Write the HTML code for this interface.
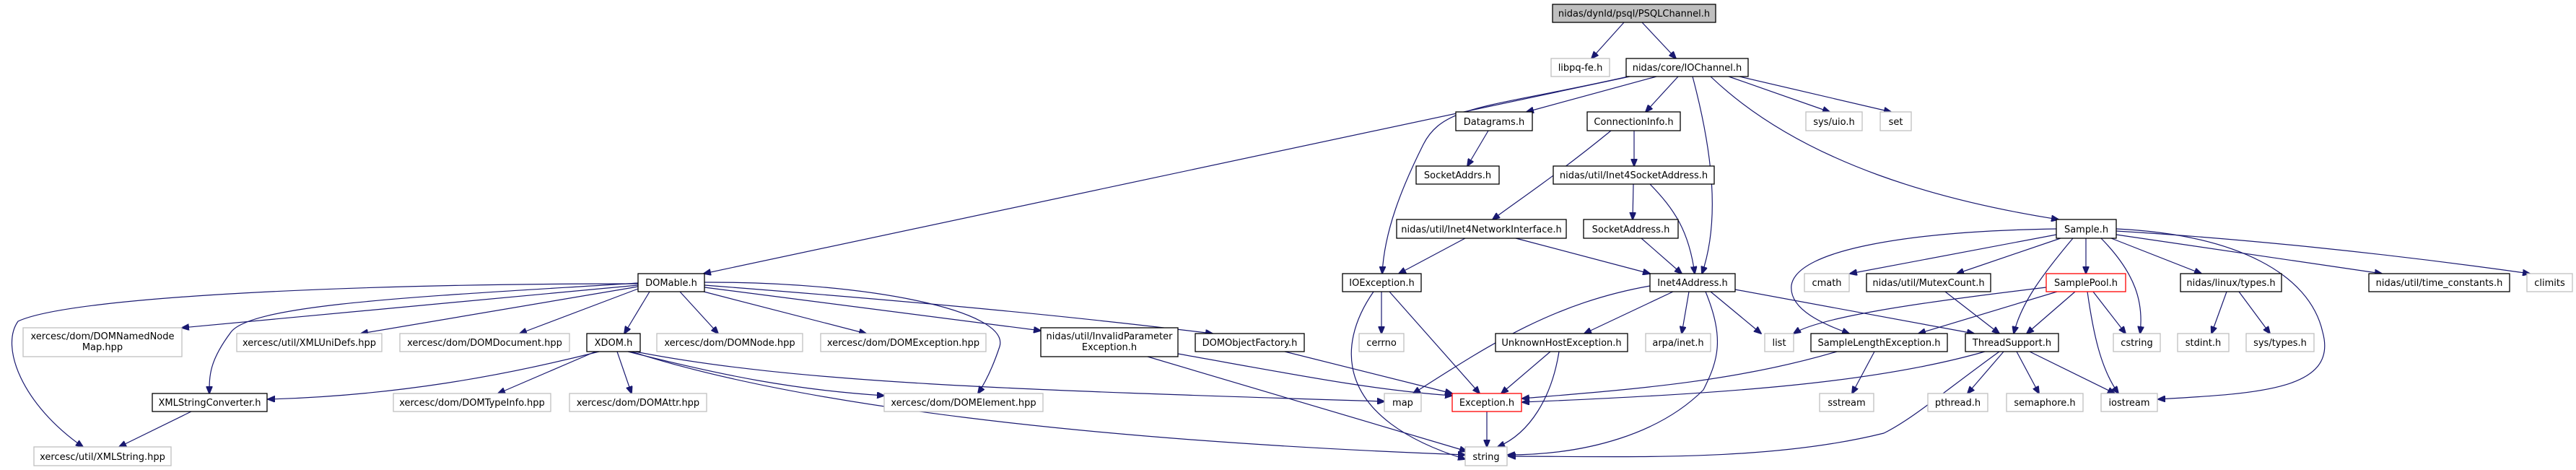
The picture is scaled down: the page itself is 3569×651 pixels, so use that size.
<!DOCTYPE html>
<html><head><meta charset="utf-8"><style>
html,body{margin:0;padding:0;background:#fff;}
svg{display:block;}
.n rect{fill:#fff;stroke:#000;stroke-width:1.3;}
.g rect{fill:#fff;stroke:#bfbfbf;stroke-width:1.3;}
.r rect{fill:#fff;stroke:#ff0000;stroke-width:1.3;}
text{font-family:"DejaVu Sans","Liberation Sans",sans-serif;font-size:13px;fill:#000;text-anchor:middle;}
path{fill:none;stroke:#191970;stroke-width:1.2;marker-end:url(#a);}
</style></head><body>
<svg width="3569" height="651" viewBox="0 0 3569 651" xmlns="http://www.w3.org/2000/svg">
<defs><marker id="a" markerWidth="11" markerHeight="9" refX="10" refY="4.5" orient="auto" markerUnits="userSpaceOnUse"><polygon points="0,0 11,4.5 0,9" fill="#191970" stroke="#191970"/></marker></defs>
<g>
<path d="M2250,31 L2205,81"/>
<path d="M2275,31 L2322,81"/>
<path d="M2258,106 L975,379"/>
<path d="M2256,106 C2060,150 2000,145 1972,200 C1942,260 1918,320 1915,379"/>
<path d="M2295,106 L2115,155"/>
<path d="M2325,106 L2280,155"/>
<path d="M2345,106 C2370,200 2385,300 2358,379"/>
<path d="M2370,106 C2500,230 2700,280 2852,304"/>
<path d="M2395,106 L2535,155"/>
<path d="M2410,106 L2620,155"/>
<path d="M2062,181 L2033,230"/>
<path d="M2264,181 L2264,230"/>
<path d="M2232,181 C2160,240 2100,280 2068,304"/>
<path d="M2263,255 L2262,304"/>
<path d="M2286,255 C2320,290 2340,320 2348,379"/>
<path d="M2030,330 L1938,379"/>
<path d="M2100,330 L2286,379"/>
<path d="M2274,330 L2330,379"/>
<path d="M1914,404 L1914,462"/>
<path d="M1925,404 L2050,545"/>
<path d="M1903,404 C1850,480 1850,580 2030,636"/>
<path d="M2286,396 C2150,420 2060,480 1958,545"/>
<path d="M2318,404 L2195,462"/>
<path d="M2340,404 L2330,462"/>
<path d="M2370,404 L2440,462"/>
<path d="M2363,404 C2390,470 2380,500 2360,540 C2300,600 2200,630 2089,630"/>
<path d="M2404,401 L2735,462"/>
<path d="M2148,487 L2080,545"/>
<path d="M2160,487 C2150,550 2120,600 2075,619"/>
<path d="M2060,570 L2060,619"/>
<path d="M2545,487 C2400,530 2250,540 2109,552"/>
<path d="M2750,487 C2600,530 2400,545 2109,557"/>
<path d="M2770,487 C2690,545 2650,580 2610,600 C2450,640 2250,632 2090,632"/>
<path d="M2597,487 L2566,545"/>
<path d="M2776,487 L2726,545"/>
<path d="M2794,487 L2825,545"/>
<path d="M2812,487 L2930,545"/>
<path d="M2849,317 C2650,320 2490,345 2482,395 C2478,430 2530,450 2562,462"/>
<path d="M2849,325 L2563,379"/>
<path d="M2855,330 L2711,379"/>
<path d="M2890,330 L2890,379"/>
<path d="M2872,330 C2830,380 2800,420 2790,462"/>
<path d="M2911,330 C2960,380 2970,420 2965,462"/>
<path d="M2925,330 L3050,379"/>
<path d="M2932,325 L3300,379"/>
<path d="M2932,320 C3100,330 3300,350 3505,379"/>
<path d="M2932,317 C3100,325 3200,380 3218,460 C3240,540 3130,545 2990,553"/>
<path d="M2835,398 C2650,420 2520,440 2485,462"/>
<path d="M2850,404 L2658,462"/>
<path d="M2875,404 L2808,462"/>
<path d="M2900,404 L2945,462"/>
<path d="M2892,404 C2900,460 2910,510 2935,545"/>
<path d="M2695,404 L2770,462"/>
<path d="M3085,404 L3064,462"/>
<path d="M3102,404 L3145,462"/>
<path d="M884,395 L252,454"/>
<path d="M884,397 L500,462"/>
<path d="M884,400 L720,462"/>
<path d="M900,404 L865,462"/>
<path d="M942,404 L995,462"/>
<path d="M975,404 L1200,462"/>
<path d="M976,398 L1442,458"/>
<path d="M976,395 C1300,420 1500,440 1680,462"/>
<path d="M976,391 C1200,390 1400,430 1385,480 C1375,510 1365,530 1355,545"/>
<path d="M884,392 C600,410 350,420 320,460 C290,500 290,520 290,545"/>
<path d="M884,393 C500,393 100,410 25,445 C0,480 30,560 115,619"/>
<path d="M830,487 C700,520 550,548 371,553"/>
<path d="M825,487 L690,545"/>
<path d="M855,487 L875,545"/>
<path d="M870,487 C1000,520 1100,540 1225,548"/>
<path d="M880,487 C1100,530 1400,540 1918,556"/>
<path d="M875,487 C1100,560 1500,610 2030,630"/>
<path d="M265,570 L165,619"/>
<path d="M1632,490 C1800,520 1900,540 2012,548"/>
<path d="M1590,494 L2032,625"/>
<path d="M1780,487 L2012,545"/>
</g>
<g class="n"><rect x="2151" y="6" width="226" height="25" style="fill:#bfbfbf"/><text x="2264" y="23">nidas/dynld/psql/PSQLChannel.h</text></g>
<g class="g"><rect x="2149" y="81" width="81" height="25"/><text x="2189.5" y="98">libpq-fe.h</text></g>
<g class="n"><rect x="2253" y="81" width="169" height="25"/><text x="2337.5" y="98">nidas/core/IOChannel.h</text></g>
<g class="n"><rect x="2017" y="155" width="106" height="26"/><text x="2070" y="173">Datagrams.h</text></g>
<g class="n"><rect x="2199" y="155" width="129" height="26"/><text x="2263.5" y="173">ConnectionInfo.h</text></g>
<g class="g"><rect x="2502" y="155" width="78" height="26"/><text x="2541" y="173">sys/uio.h</text></g>
<g class="g"><rect x="2605" y="155" width="43" height="26"/><text x="2626.5" y="173">set</text></g>
<g class="n"><rect x="1962" y="230" width="115" height="25"/><text x="2019.5" y="247">SocketAddrs.h</text></g>
<g class="n"><rect x="2152" y="230" width="223" height="25"/><text x="2263.5" y="247">nidas/util/Inet4SocketAddress.h</text></g>
<g class="n"><rect x="1935" y="304" width="235" height="26"/><text x="2052.5" y="322">nidas/util/Inet4NetworkInterface.h</text></g>
<g class="n"><rect x="2194" y="304" width="131" height="26"/><text x="2259.5" y="322">SocketAddress.h</text></g>
<g class="n"><rect x="2849" y="304" width="83" height="26"/><text x="2890.5" y="322">Sample.h</text></g>
<g class="n"><rect x="884" y="379" width="92" height="25"/><text x="930" y="396">DOMable.h</text></g>
<g class="n"><rect x="1860" y="379" width="109" height="25"/><text x="1914.5" y="396">IOException.h</text></g>
<g class="n"><rect x="2286" y="379" width="118" height="25"/><text x="2345" y="396">Inet4Address.h</text></g>
<g class="g"><rect x="2500" y="379" width="62" height="25"/><text x="2531" y="396">cmath</text></g>
<g class="n"><rect x="2586" y="379" width="172" height="25"/><text x="2672" y="396">nidas/util/MutexCount.h</text></g>
<g class="r"><rect x="2835" y="379" width="110" height="25"/><text x="2890" y="396">SamplePool.h</text></g>
<g class="n"><rect x="3021" y="379" width="140" height="25"/><text x="3091" y="396">nidas/linux/types.h</text></g>
<g class="n"><rect x="3282" y="379" width="195" height="25"/><text x="3379.5" y="396">nidas/util/time_constants.h</text></g>
<g class="g"><rect x="3501" y="379" width="63" height="25"/><text x="3532.5" y="396">climits</text></g>
<g class="g"><rect x="32" y="454" width="220" height="40"/><text x="142" y="470">xercesc/dom/DOMNamedNode</text><text x="142" y="485">Map.hpp</text></g>
<g class="g"><rect x="328" y="462" width="201" height="25"/><text x="428.5" y="479">xercesc/util/XMLUniDefs.hpp</text></g>
<g class="g"><rect x="554" y="462" width="235" height="25"/><text x="671.5" y="479">xercesc/dom/DOMDocument.hpp</text></g>
<g class="n"><rect x="813" y="462" width="74" height="25"/><text x="850" y="479">XDOM.h</text></g>
<g class="g"><rect x="910" y="462" width="202" height="25"/><text x="1011" y="479">xercesc/dom/DOMNode.hpp</text></g>
<g class="g"><rect x="1137" y="462" width="229" height="25"/><text x="1251.5" y="479">xercesc/dom/DOMException.hpp</text></g>
<g class="n"><rect x="1442" y="454" width="190" height="40"/><text x="1537" y="470">nidas/util/InvalidParameter</text><text x="1537" y="485">Exception.h</text></g>
<g class="n"><rect x="1656" y="462" width="151" height="25"/><text x="1731.5" y="479">DOMObjectFactory.h</text></g>
<g class="g"><rect x="1883" y="462" width="62" height="25"/><text x="1914" y="479">cerrno</text></g>
<g class="n"><rect x="2072" y="462" width="183" height="25"/><text x="2163.5" y="479">UnknownHostException.h</text></g>
<g class="g"><rect x="2280" y="462" width="90" height="25"/><text x="2325" y="479">arpa/inet.h</text></g>
<g class="g"><rect x="2445" y="462" width="40" height="25"/><text x="2465" y="479">list</text></g>
<g class="n"><rect x="2509" y="462" width="189" height="25"/><text x="2603.5" y="479">SampleLengthException.h</text></g>
<g class="n"><rect x="2723" y="462" width="129" height="25"/><text x="2787.5" y="479">ThreadSupport.h</text></g>
<g class="g"><rect x="2928" y="462" width="65" height="25"/><text x="2960.5" y="479">cstring</text></g>
<g class="g"><rect x="3017" y="462" width="71" height="25"/><text x="3052.5" y="479">stdint.h</text></g>
<g class="g"><rect x="3112" y="462" width="94" height="25"/><text x="3159" y="479">sys/types.h</text></g>
<g class="n"><rect x="211" y="545" width="159" height="25"/><text x="290.5" y="562">XMLStringConverter.h</text></g>
<g class="g"><rect x="545" y="545" width="218" height="25"/><text x="654" y="562">xercesc/dom/DOMTypeInfo.hpp</text></g>
<g class="g"><rect x="789" y="545" width="190" height="25"/><text x="884" y="562">xercesc/dom/DOMAttr.hpp</text></g>
<g class="g"><rect x="1225" y="545" width="220" height="25"/><text x="1335" y="562">xercesc/dom/DOMElement.hpp</text></g>
<g class="g"><rect x="1918" y="545" width="51" height="25"/><text x="1943.5" y="562">map</text></g>
<g class="r"><rect x="2012" y="545" width="96" height="25"/><text x="2060" y="562">Exception.h</text></g>
<g class="g"><rect x="2521" y="545" width="75" height="25"/><text x="2558.5" y="562">sstream</text></g>
<g class="g"><rect x="2671" y="545" width="83" height="25"/><text x="2712.5" y="562">pthread.h</text></g>
<g class="g"><rect x="2780" y="545" width="106" height="25"/><text x="2833" y="562">semaphore.h</text></g>
<g class="g"><rect x="2911" y="545" width="78" height="25"/><text x="2950" y="562">iostream</text></g>
<g class="g"><rect x="47" y="619" width="190" height="26"/><text x="142" y="637">xercesc/util/XMLString.hpp</text></g>
<g class="g"><rect x="2030" y="619" width="58" height="26"/><text x="2059" y="637">string</text></g>
</svg>
</body></html>
